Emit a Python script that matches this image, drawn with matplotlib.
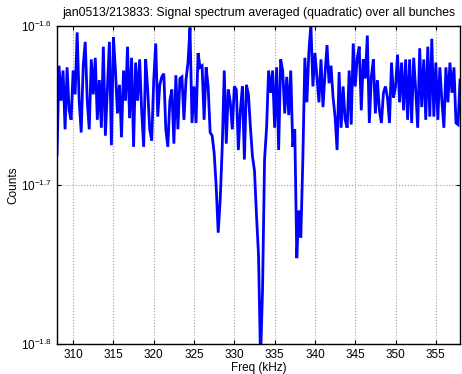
import numpy as np
import matplotlib
matplotlib.use("Agg")
import matplotlib.pyplot as plt
from matplotlib.ticker import FixedLocator, NullLocator

plt.rcParams['font.family'] = ['Liberation Sans', 'DejaVu Sans']
plt.rcParams['mathtext.fontset'] = 'custom'
plt.rcParams['mathtext.rm'] = 'Liberation Sans'
plt.rcParams['mathtext.it'] = 'Liberation Sans:italic'

# frequency bins (kHz), 0.25 kHz spacing
freq = np.arange(308.0, 358.0 + 0.125, 0.25)

# log10 of the averaged spectrum
log_counts = [
    -1.681, -1.625, -1.647, -1.628, -1.665, -1.626, -1.653, -1.659, -1.628, -1.643,
    -1.604, -1.647, -1.667, -1.625, -1.610, -1.647, -1.665, -1.621, -1.643, -1.620,
    -1.659, -1.634, -1.664, -1.613, -1.669, -1.640, -1.610, -1.675, -1.607, -1.628,
    -1.655, -1.637, -1.670, -1.628, -1.647, -1.613, -1.658, -1.620, -1.676, -1.623,
    -1.647, -1.621, -1.653, -1.676, -1.621, -1.640, -1.665, -1.672, -1.634, -1.611,
    -1.657, -1.637, -1.632, -1.630, -1.665, -1.676, -1.647, -1.640, -1.674, -1.631,
    -1.665, -1.633, -1.632, -1.659, -1.634, -1.623, -1.601, -1.661, -1.638, -1.661,
    -1.617, -1.626, -1.625, -1.659, -1.626, -1.638, -1.667, -1.669, -1.680, -1.701,
    -1.730, -1.709, -1.676, -1.628, -1.674, -1.640, -1.648, -1.665, -1.638, -1.640,
    -1.678, -1.653, -1.638, -1.684, -1.637, -1.643, -1.664, -1.682, -1.691, -1.719,
    -1.744, -1.810, -1.766, -1.684, -1.664, -1.628, -1.642, -1.628, -1.664, -1.626,
    -1.678, -1.621, -1.628, -1.655, -1.632, -1.656, -1.628, -1.676, -1.665, -1.746,
    -1.716, -1.733, -1.684, -1.620, -1.648, -1.616, -1.599, -1.638, -1.617, -1.632,
    -1.648, -1.621, -1.651, -1.630, -1.612, -1.636, -1.625, -1.645, -1.657, -1.678,
    -1.629, -1.664, -1.638, -1.659, -1.664, -1.628, -1.662, -1.611, -1.638, -1.620,
    -1.613, -1.653, -1.621, -1.633, -1.606, -1.661, -1.632, -1.621, -1.655, -1.634,
    -1.653, -1.661, -1.642, -1.638, -1.645, -1.661, -1.623, -1.645, -1.638, -1.618,
    -1.648, -1.623, -1.653, -1.621, -1.659, -1.621, -1.661, -1.620, -1.640, -1.664,
    -1.614, -1.651, -1.621, -1.659, -1.613, -1.657, -1.608, -1.657, -1.623, -1.659,
    -1.626, -1.647, -1.664, -1.626, -1.648, -1.623, -1.642, -1.626, -1.661, -1.662,
    -1.634,
]

xticks = [310, 315, 320, 325, 330, 335, 340, 345, 350, 355]
yexp = [-1.8, -1.7, -1.6]
ylabels = [r'$10^{-1.8}$', r'$10^{-1.7}$', r'$10^{-1.6}$']

counts = 10 ** np.array(log_counts)

fig = plt.figure(figsize=(4.62, 3.74), dpi=100)
ax = fig.add_axes([0.1234, 0.0802, 0.8723, 0.8503])
ax.plot(freq, counts, color=(0, 0, 1), lw=2.0, solid_joinstyle='miter')

ax.set_yscale('log')
ax.set_xlim(308, 358)
ax.set_ylim(10 ** yexp[0], 10 ** yexp[-1])
ax.xaxis.set_major_locator(FixedLocator(xticks))
ax.set_xticklabels([str(t) for t in xticks])
ax.yaxis.set_major_locator(FixedLocator([10 ** e for e in yexp]))
ax.yaxis.set_minor_locator(NullLocator())
ax.set_yticklabels(ylabels)

ax.tick_params(direction='in', top=True, right=True, labelsize=8.5, length=3, width=0.8)
ax.grid(True, color='#a0a0a0', linestyle=':', lw=0.8)
for s in ax.spines.values():
    s.set_linewidth(1.0)

ax.set_xlabel('Freq (kHz)', fontsize=8.5, labelpad=1)
ax.set_ylabel('Counts', fontsize=8.5, labelpad=1)
ax.set_title('jan0513/213833: Signal spectrum averaged (quadratic) over all bunches',
             fontsize=8.8, pad=7)

fig.savefig('out.png', dpi=100)
